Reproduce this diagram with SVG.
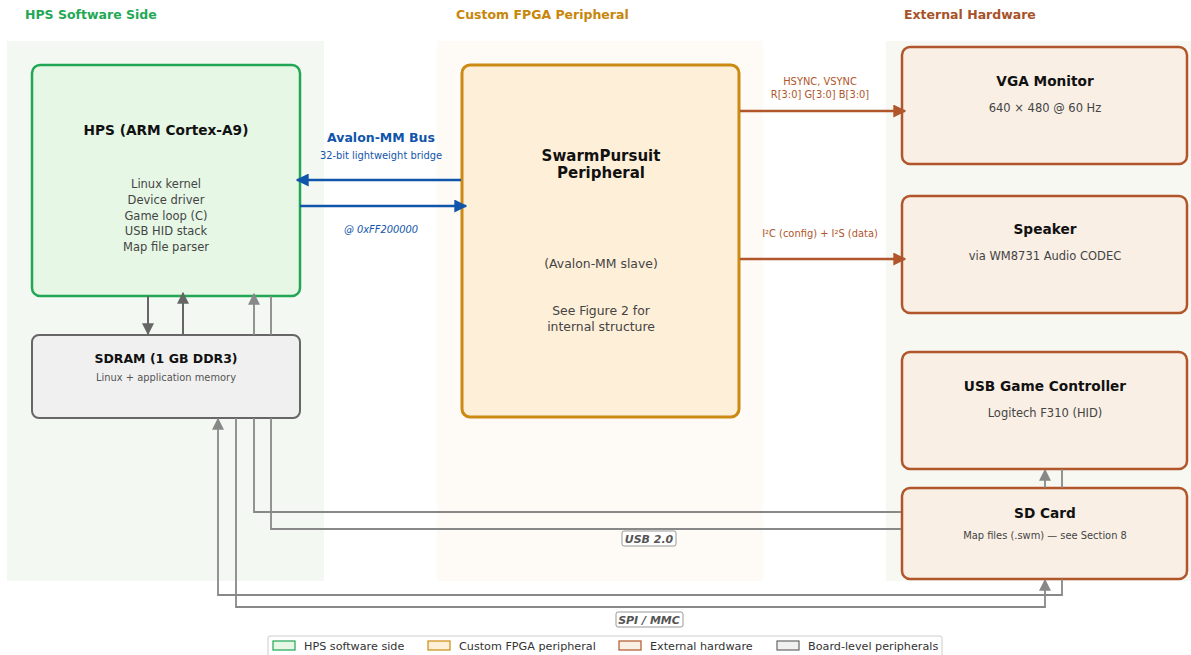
<svg xmlns="http://www.w3.org/2000/svg" width="1191" height="655" viewBox="0 0 1191 655">
<defs>
<style>
text{font-family:"DejaVu Sans","Liberation Sans",sans-serif;text-anchor:middle}
.hdr{font-size:12.5px;font-weight:bold;text-anchor:start}
.ttl{font-size:13.7px;font-weight:bold;fill:#111}
.sub{font-size:11.5px;fill:#444}
.small{font-size:9.9px}
.hps{fill:#e6f7e6;stroke:#22a655;stroke-width:2.5}
.fpga{fill:#feefd8;stroke:#cc8a12;stroke-width:3}
.ext{fill:#f9efe5;stroke:#b0562a;stroke-width:2.5}
.brd{fill:#f0f0f0;stroke:#666;stroke-width:2}
.gl{fill:none;stroke:#888;stroke-width:1.8}
.dg{fill:none;stroke:#666;stroke-width:2}
.bl{fill:none;stroke:#1155aa;stroke-width:2.5}
.br{fill:none;stroke:#b0562a;stroke-width:2.5}
.lbl{font-size:11px;font-weight:bold;font-style:italic;fill:#555}
.lbox{fill:#fff;stroke:#999;stroke-width:1}
.leg{font-size:11.2px;fill:#333;text-anchor:start}
</style>
<marker id="ag" viewBox="0 0 10 10" refX="9" refY="5" markerWidth="12" markerHeight="12" markerUnits="userSpaceOnUse" orient="auto"><path d="M0,0L10,5L0,10z" fill="#888"/></marker>
<marker id="ad" viewBox="0 0 10 10" refX="9" refY="5" markerWidth="12" markerHeight="12" markerUnits="userSpaceOnUse" orient="auto"><path d="M0,0L10,5L0,10z" fill="#666"/></marker>
<marker id="ab" viewBox="0 0 10 10" refX="9" refY="5" markerWidth="13" markerHeight="13" markerUnits="userSpaceOnUse" orient="auto"><path d="M0,0L10,5L0,10z" fill="#1155aa"/></marker>
<marker id="ar" viewBox="0 0 10 10" refX="9" refY="5" markerWidth="13" markerHeight="13" markerUnits="userSpaceOnUse" orient="auto"><path d="M0,0L10,5L0,10z" fill="#b0562a"/></marker>
</defs>
<rect width="1191" height="655" fill="#fff"/>
<g id="panels">
<rect x="7" y="41" width="317" height="540" fill="#f3f9f2"/>
<rect x="437" y="41" width="326" height="540" fill="#fefaf6"/>
<rect x="886" y="41" width="305" height="540" fill="#f8f8f3"/>
<text class="hdr" x="25" y="19" fill="#1fa855">HPS Software Side</text>
<text class="hdr" x="456" y="19" fill="#c8860a">Custom FPGA Peripheral</text>
<text class="hdr" x="904" y="19" fill="#a8522a">External Hardware</text>
</g>
<g id="nodes">
<g id="hps"><rect class="hps" x="32" y="65" width="268" height="231" rx="8"/>
<text class="ttl" x="166" y="135">HPS (ARM Cortex-A9)</text>
<text class="sub" x="166" y="188">Linux kernel</text>
<text class="sub" x="166" y="204">Device driver</text>
<text class="sub" x="166" y="220">Game loop (C)</text>
<text class="sub" x="166" y="235">USB HID stack</text>
<text class="sub" x="166" y="251">Map file parser</text></g>
<g id="sdram"><rect class="brd" x="32" y="335" width="268" height="83" rx="7"/>
<text class="ttl" x="166" y="363" style="font-size:12.5px">SDRAM (1 GB DDR3)</text>
<text class="small" x="166" y="381" fill="#555">Linux + application memory</text></g>
<g id="fpga"><rect class="fpga" x="462" y="65" width="277" height="352" rx="8"/>
<text class="ttl" x="601" y="161" style="font-size:15px">SwarmPursuit</text>
<text class="ttl" x="601" y="178" style="font-size:15px">Peripheral</text>
<text class="sub" x="601" y="268" style="font-size:12.4px">(Avalon-MM slave)</text>
<text class="sub" x="601" y="315" style="font-size:12.4px">See Figure 2 for</text>
<text class="sub" x="601" y="331" style="font-size:12.4px">internal structure</text></g>
<g id="vga"><rect class="ext" x="902" y="47" width="285" height="117" rx="8"/>
<text class="ttl" x="1045" y="86">VGA Monitor</text>
<text class="sub" x="1045" y="112">640 × 480 @ 60 Hz</text></g>
<g id="speaker"><rect class="ext" x="902" y="196" width="285" height="117" rx="8"/>
<text class="ttl" x="1045" y="234">Speaker</text>
<text class="sub" x="1045" y="260">via WM8731 Audio CODEC</text></g>
<g id="usb"><rect class="ext" x="902" y="352" width="285" height="117" rx="8"/>
<text class="ttl" x="1045" y="391">USB Game Controller</text>
<text class="sub" x="1045" y="417">Logitech F310 (HID)</text></g>
<g id="sd"><rect class="ext" x="902" y="488" width="285" height="91" rx="8"/>
<text class="ttl" x="1045" y="518">SD Card</text>
<text class="small" x="1045" y="539" fill="#444">Map files (.swm) — see Section 8</text></g>
</g>
<g id="connectors">
<path class="dg" d="M148 296V334" marker-end="url(#ad)"/>
<path class="dg" d="M183 335V293" marker-end="url(#ad)"/>
<path class="gl" d="M1062 469V488M1062 579V595H218V419" marker-end="url(#ag)"/>
<path class="gl" d="M236 418V607H1045V580" marker-end="url(#ag)"/>
<path class="gl" d="M901 512H254V418M254 335V294" marker-end="url(#ag)"/>
<path class="gl" d="M271 296V335M271 418V529H901M1045 488V470" marker-end="url(#ag)"/>
<path class="bl" d="M461 180H297" marker-end="url(#ab)"/>
<path class="bl" d="M300 206H466" marker-end="url(#ab)"/>
<path class="br" d="M740 111H905" marker-end="url(#ar)"/>
<path class="br" d="M740 259H905" marker-end="url(#ar)"/>
<text x="381" y="142" style="font-size:12.5px;font-weight:bold" fill="#1155aa">Avalon-MM Bus</text>
<text class="small" x="381" y="159" fill="#1155aa">32-bit lightweight bridge</text>
<text class="small" x="381" y="233" fill="#1155aa" font-style="italic">@ 0xFF200000</text>
<text class="small" x="820" y="85" fill="#b0562a">HSYNC, VSYNC</text>
<text class="small" x="820" y="98" fill="#b0562a">R[3:0] G[3:0] B[3:0]</text>
<text class="small" x="820" y="237" fill="#b0562a">I²C (config) + I²S (data)</text>
<rect class="lbox" x="622" y="531" width="54" height="15" rx="2"/>
<text class="lbl" x="649" y="543">USB 2.0</text>
<rect class="lbox" x="616" y="612" width="67" height="15" rx="2"/>
<text class="lbl" x="649" y="624">SPI / MMC</text>
</g>
<g id="legend">
<rect x="268" y="636" width="674" height="24" rx="2" fill="#fff" stroke="#ccc"/>
<rect x="273" y="641" width="22" height="9" fill="#e6f7e6" stroke="#22a655" stroke-width="1.2"/>
<text class="leg" x="304" y="650">HPS software side</text>
<rect x="428" y="641" width="22" height="9" fill="#feefd8" stroke="#cc8a12" stroke-width="1.2"/>
<text class="leg" x="459" y="650">Custom FPGA peripheral</text>
<rect x="619" y="641" width="22" height="9" fill="#f9efe5" stroke="#b0562a" stroke-width="1.2"/>
<text class="leg" x="650" y="650">External hardware</text>
<rect x="777" y="641" width="22" height="9" fill="#f0f0f0" stroke="#666" stroke-width="1.2"/>
<text class="leg" x="808" y="650">Board-level peripherals</text>
</g>
</svg>
